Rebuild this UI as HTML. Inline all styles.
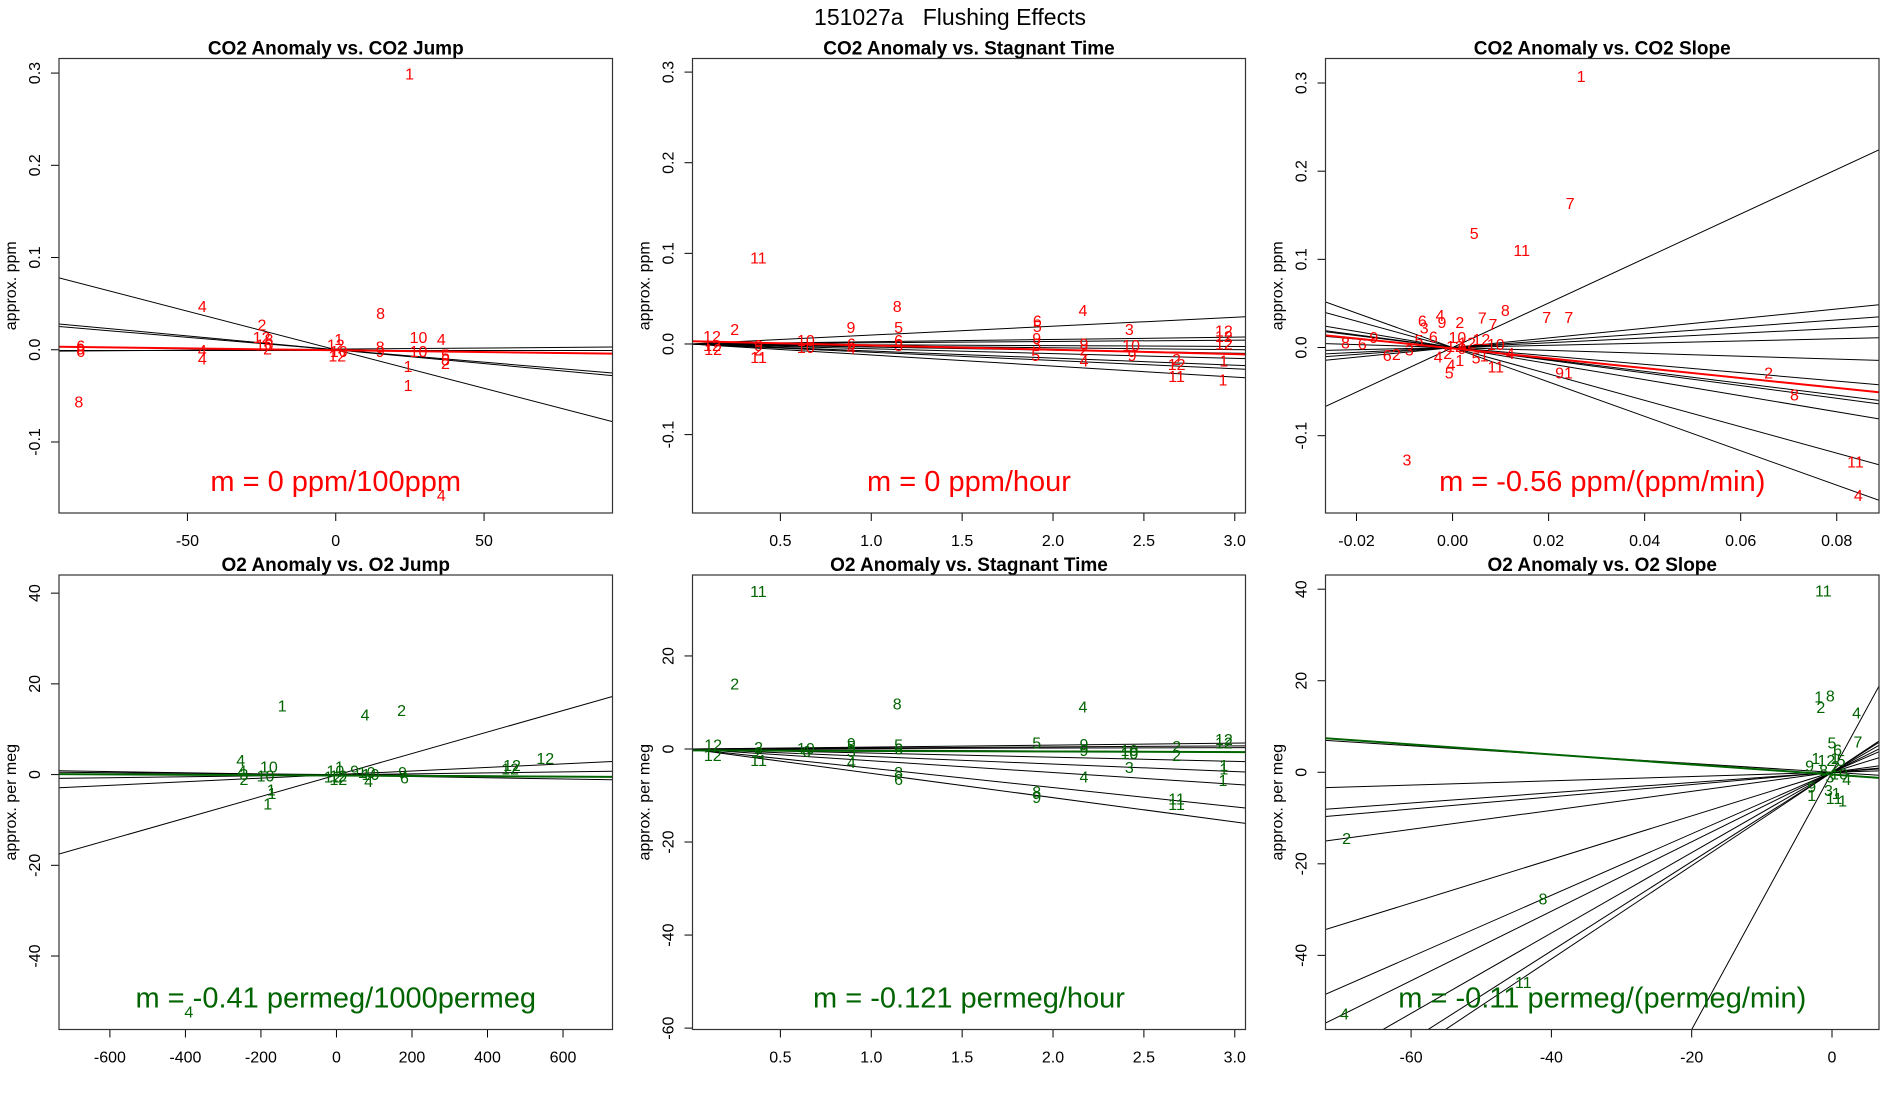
<!DOCTYPE html>
<html><head><meta charset="utf-8"><title>151027a Flushing Effects</title>
<style>
html,body{margin:0;padding:0;background:#fff;overflow:hidden;width:1900px;height:1100px;}
svg{display:block;font-family:"Liberation Sans",Arial,sans-serif;}
</style></head>
<body>
<svg id="chart" width="1900" height="1100" viewBox="0 0 1900 1100">
<text x="950" y="25" font-size="23" text-anchor="middle" style="white-space:pre" xml:space="preserve">151027a   Flushing Effects</text>
</svg>
<script>
// ---------- Panel 1: CO2 Anomaly vs CO2 Jump ----------
const p1X=[24.9,-45,-24.9,15.1,27.9,35.6,27.9,24.4,24.4,-86.6,35.6,-45,-45,-86,-86,-86,-25,-22.5,-24,-23,1,0,1,0.5,15,15,37,37,37];
const p1Y=[0.298,0.046,0.026,0.038,0.012,0.010,-0.003,-0.019,-0.040,-0.058,-0.159,-0.002,-0.011,0.003,0.0,-0.003,0.012,0.010,0.004,0.0,0.010,0.004,-0.003,-0.008,0.002,-0.003,-0.007,-0.012,-0.016];
const p1Lab=["1","4","2","8","10","4","10","1","1","8","4","4","4","6","9","6","12","8","10","2","1","12","10","12","8","9","5","8","2"];
const p1Slopes=[-0.000836,-0.0003,-0.00027,0.000024,0.0];
const p1Ints=[0,0,0,0.0007,-0.0008];
const p1Fit=[-0.00004,-0.0005];
// ---------- Panel 2: CO2 Anomaly vs Stagnant Time ----------
const p2X=[0.379,1.143,2.165,0.249,0.888,1.15,1.914,1.914,2.42,2.94,2.94,2.94,0.124,0.124,0.13,0.38,0.38,0.38,0.64,0.64,0.89,0.89,1.15,1.15,1.91,1.91,1.905,2.17,2.17,2.17,2.43,2.435,2.68,2.68,2.68,2.94,2.935];
const p2Y=[0.0935,0.040,0.036,0.015,0.017,0.017,0.024,0.018,0.015,0.013,0.007,-0.001,0.007,-0.003,-0.007,-0.003,-0.008,-0.016,0.003,-0.005,-0.001,-0.006,0.003,-0.003,0.005,-0.001,-0.014,-0.001,-0.008,-0.020,-0.003,-0.014,-0.018,-0.024,-0.037,-0.020,-0.041];
const p2Lab=["11","8","4","2","9","5","6","5","3","12","12","12","12","12","12","9","2","11","10","10","6","4","6","3","9","3","5","9","2","4","10","9","2","12","11","1","1"];
const p2Slopes=[0.0098,0.0025,0.0014,-0.0009,-0.0021,-0.0034,-0.0053,-0.0078,-0.0091,-0.0122];
const p2Ints=[0,0,0,0,0,0,0,0,0,0];
const p2Fit=[-0.00475,0.0031];
// ---------- Panel 3: CO2 Anomaly vs CO2 Slope ----------
const p3X=[0.0268,0.0245,0.0045,0.0144,0.011,0.0196,0.0242,0.0062,0.0084,-0.0026,-0.0063,-0.0022,0.0015,-0.0059,-0.0223,-0.0188,-0.0164,-0.0136,-0.0117,-0.0095,0.0658,0.0712,0.0839,0.0845,0.0232,0.009,-0.0007,-0.0003,0.0049,0.0066,0.001,0.003,-0.004,-0.007,0.0005,0.002,-0.001,0.006,0.009,0.012,-0.009,-0.003,0.0015];
const p3Y=[0.306,0.162,0.128,0.109,0.041,0.033,0.033,0.0326,0.025,0.035,0.029,0.027,0.027,0.021,0.004,0.003,0.010,-0.010,-0.009,-0.129,-0.030,-0.055,-0.131,-0.169,-0.030,-0.023,-0.030,-0.021,-0.013,-0.011,0.010,0.004,0.011,0.007,0.000,-0.002,-0.008,0.008,0.002,-0.008,-0.004,-0.012,-0.016];
const p3Lab=["1","7","5","11","8","7","7","7","7","4","6","9","2","3","8","6","9","6","2","3","2","8","11","4","91","11","5","4","5","1","10","12","6","5","12","9","2","12","10","4","3","4","1"];
const p3Slopes=[2.525,0.547,0.391,0.271,0.124,-0.165,-0.476,-0.676,-0.720,-0.911,-1.498,-1.952];
const p3Ints=[0,0,0,0,0,0,0,0,0,0,0,0];
const p3Fit=[-0.56,-0.001];
// ---------- Panel 4: O2 Anomaly vs O2 Jump ----------
const p4X=[-143.8,75.7,172.3,553,465,460,-253.6,-179,-245,-188,-173,-171,-182,-391,-3,5,8,48,80,90,85,175,180,-250,-245,5,-10];
const p4Y=[14.9,12.9,13.9,3.3,1.8,1.0,2.9,1.4,-1.3,-0.5,-3.6,-4.4,-6.7,-52.6,0.6,-0.5,1.4,0.6,0.2,-0.2,-1.7,0.2,-1.0,0.6,-0.2,-1.3,-0.8];
const p4Lab=["1","4","2","12","12","12","4","10","2","10","1","1","1","4","10","12","1","9","10","10","4","9","6","4","3","12","12"];
const p4Slopes=[0.0237,0.00394,-0.00137,0.00106,-0.0007];
const p4Ints=[-0.1,0,-0.15,-0.05,0];
const p4Fit=[-0.00041,-0.2];
// ---------- Panel 5: O2 Anomaly vs Stagnant Time ----------
const p5X=[0.379,0.249,1.143,2.165,2.94,2.94,1.91,2.17,2.17,2.68,2.68,2.42,2.42,2.42,2.94,2.94,2.935,2.17,2.68,2.68,1.91,1.91,1.15,1.15,0.89,0.89,0.38,0.128,0.13,0.64,0.645,1.15,1.15,0.89,0.89,0.38,0.38];
const p5Y=[33.6,13.8,9.5,8.8,1.8,1.05,1.05,0.8,-0.5,0.3,-1.6,-0.5,-1.2,-4.2,-3.8,-4.5,-7.0,-6.2,-11.0,-12.1,-9.5,-10.6,-5.3,-6.8,-3.1,-0.8,-2.7,-1.6,0.6,-0.1,-0.8,0.6,-0.2,1.0,0.3,0.1,-1.0];
const p5Lab=["11","2","8","4","12","12","5","9","9","2","2","10","10","3","1","1","1","4","11","11","8","9","8","6","4","3","11","12","12","10","6","5","6","9","5","2","2"];
const p5Slopes=[0.418,0.221,0.098,-0.221,-0.885,-1.62,-2.53,-4.15,-5.23];
const p5Ints=[0,0,0,0,0,0,0,0,0];
const p5Fit=[-0.121,-0.3];
// ---------- Panel 6: O2 Anomaly vs O2 Slope ----------
const p6X=[-1.24,-1.9,-0.24,-1.6,3.5,3.7,0,0.8,-69.2,-41.2,-44.0,-69.5,-3.2,-2.3,-0.8,0.4,1.3,2.1,-2.9,-2.9,-0.5,0.6,1.5,0.3,-1.2,1.0,-0.3,0.5];
const p6Y=[39.4,16.2,16.4,13.9,12.7,6.4,6.2,4.7,-14.7,-27.9,-46.1,-53.0,1.2,2.8,2.4,2.8,2.4,-1.8,-3.4,-5.3,-4.2,-4.9,-6.5,-6.0,0.2,-0.6,-1.2,1.0];
const p6Lab=["11","1","8","2","4","7","5","6","2","8","11","4","9","1","12","1","5","4","9","1","3","1","1","11","8","10","3","2"];
const p6Slopes=[-0.0964,0.0466,0.112,0.134,0.208,0.476,0.672,0.759,0.878,0.976,1.02,2.81];
const p6Ints=[0,0,0,0,0,0,0,0,0,0,0,0];
const p6Fit=[-0.11,-0.5];

const SVGNS="http://www.w3.org/2000/svg";
const svgRoot=document.getElementById('chart');
function mk(tag,attrs,parent){const e=document.createElementNS(SVGNS,tag);for(const k in attrs)e.setAttribute(k,attrs[k]);(parent||svgRoot).appendChild(e);return e;}

function panel(cfg){
  const g=mk('g',{});
  
  
  const b=cfg.box;
  const sx=v=>b.l+(v-cfg.xlim[0])/(cfg.xlim[1]-cfg.xlim[0])*(b.r-b.l);
  const sy=v=>b.b-(v-cfg.ylim[0])/(cfg.ylim[1]-cfg.ylim[0])*(b.b-b.t);
  const cid='clip-'+cfg.name;
  const cp=mk('clipPath',{id:cid},g);
  mk('rect',{x:b.l,y:b.t,width:b.r-b.l,height:b.b-b.t},cp);
  const t=mk('text',{x:(b.l+b.r)/2,y:b.t-4,'font-size':19,'font-weight':'bold','text-anchor':'middle'},g);
  t.textContent=cfg.title;
  
  
  const yl=mk('text',{x:b.l-43,y:(b.t+b.b)/2,'font-size':16,'text-anchor':'middle',transform:`rotate(-90 ${b.l-43} ${(b.t+b.b)/2})`},g);
  yl.textContent=cfg.ylabel;
  
  
  cfg.xticks.forEach((v,i)=>{
    const x=sx(v);
    const tk=mk('line',{x1:x,x2:x,y1:b.b,y2:b.b+8,stroke:'#000','stroke-width':1},g);
    
    
    const tl=mk('text',{x:x,y:b.b+33,'font-size':16,'text-anchor':'middle'},g);
    tl.textContent=cfg.xtickLabels[i];
    
    
  });
  cfg.yticks.forEach((v,i)=>{
    const y=sy(v);
    const tk=mk('line',{x1:b.l-8,x2:b.l,y1:y,y2:y,stroke:'#000','stroke-width':1},g);
    
    
    const xx=b.l-19;
    const tl=mk('text',{x:xx,y:y,'font-size':16,'text-anchor':'middle',transform:`rotate(-90 ${xx} ${y})`},g);
    tl.textContent=cfg.ytickLabels[i];
    
    
  });
  const cg=mk('g',{'clip-path':`url(#${cid})`},g);
  cfg.slopes.forEach((m,i)=>{
    const c=cfg.ints[i];
    const x0=cfg.xlim[0],x1=cfg.xlim[1];
    const ln=mk('line',{x1:sx(x0),y1:sy(c+m*x0),x2:sx(x1),y2:sy(c+m*x1),stroke:'#000','stroke-width':1},cg);
    
    
  });
  cfg.px.forEach((v,i)=>{
    const pt=mk('text',{x:sx(v),y:sy(cfg.py[i]),'font-size':16,fill:cfg.color,'text-anchor':'middle','dominant-baseline':'central'},cg);
    pt.textContent=cfg.lab[i];
    
    
  });
  {
    const m=cfg.fit[0],c=cfg.fit[1],x0=cfg.xlim[0],x1=cfg.xlim[1];
    const ln=mk('line',{x1:sx(x0),y1:sy(c+m*x0),x2:sx(x1),y2:sy(c+m*x1),stroke:cfg.color,'stroke-width':2},cg);
    
    
  }
  const an=mk('text',{x:(b.l+b.r)/2,y:b.b-22,'font-size':29,fill:cfg.color,'text-anchor':'middle'},g);
  an.textContent=cfg.annot;
  
  
  const bx=mk('rect',{x:b.l,y:b.t,width:b.r-b.l,height:b.b-b.t,fill:'none',stroke:'#333','stroke-width':1.2},g);
  
  
}

const RED='#ff0000',GREEN='#006400';
const rowTop={t:58.5,b:513},rowBot={t:575,b:1029.5};
const c1={l:59,r:612.5},c2={l:692.5,r:1245.5},c3={l:1325.5,r:1879};
const ppmTicks=[-0.1,0,0.1,0.2,0.3],ppmLabels=["-0.1","0.0","0.1","0.2","0.3"];
const hrTicks=[0.5,1,1.5,2,2.5,3],hrLabels=["0.5","1.0","1.5","2.0","2.5","3.0"];

panel({name:'panel-co2-jump',title:'CO2 Anomaly vs. CO2 Jump',ylabel:'approx. ppm',box:{...c1,...rowTop},
  xlim:[-93.3,93.3],ylim:[-0.177,0.3158],xticks:[-50,0,50],xtickLabels:["-50","0","50"],
  yticks:ppmTicks,ytickLabels:ppmLabels,px:p1X,py:p1Y,lab:p1Lab,slopes:p1Slopes,ints:p1Ints,fit:p1Fit,color:RED,annot:'m = 0 ppm/100ppm'});
panel({name:'panel-co2-stagnant',title:'CO2 Anomaly vs. Stagnant Time',ylabel:'approx. ppm',box:{...c2,...rowTop},
  xlim:[0.0165,3.059],ylim:[-0.1865,0.315],xticks:hrTicks,xtickLabels:hrLabels,
  yticks:ppmTicks,ytickLabels:ppmLabels,px:p2X,py:p2Y,lab:p2Lab,slopes:p2Slopes,ints:p2Ints,fit:p2Fit,color:RED,annot:'m = 0 ppm/hour'});
panel({name:'panel-co2-slope',title:'CO2 Anomaly vs. CO2 Slope',ylabel:'approx. ppm',box:{...c3,...rowTop},
  xlim:[-0.02646,0.0888],ylim:[-0.1877,0.3278],xticks:[-0.02,0,0.02,0.04,0.06,0.08],xtickLabels:["-0.02","0.00","0.02","0.04","0.06","0.08"],
  yticks:ppmTicks,ytickLabels:ppmLabels,px:p3X,py:p3Y,lab:p3Lab,slopes:p3Slopes,ints:p3Ints,fit:p3Fit,color:RED,annot:'m = -0.56 ppm/(ppm/min)'});
panel({name:'panel-o2-jump',title:'O2 Anomaly vs. O2 Jump',ylabel:'approx. per meg',box:{...c1,...rowBot},
  xlim:[-734.8,731],ylim:[-56.2,44],xticks:[-600,-400,-200,0,200,400,600],xtickLabels:["-600","-400","-200","0","200","400","600"],
  yticks:[-40,-20,0,20,40],ytickLabels:["-40","-20","0","20","40"],px:p4X,py:p4Y,lab:p4Lab,slopes:p4Slopes,ints:p4Ints,fit:p4Fit,color:GREEN,annot:'m = -0.41 permeg/1000permeg'});
panel({name:'panel-o2-stagnant',title:'O2 Anomaly vs. Stagnant Time',ylabel:'approx. per meg',box:{...c2,...rowBot},
  xlim:[0.0165,3.059],ylim:[-60.3,37.4],xticks:hrTicks,xtickLabels:hrLabels,
  yticks:[-60,-40,-20,0,20],ytickLabels:["-60","-40","-20","0","20"],px:p5X,py:p5Y,lab:p5Lab,slopes:p5Slopes,ints:p5Ints,fit:p5Fit,color:GREEN,annot:'m = -0.121 permeg/hour'});
panel({name:'panel-o2-slope',title:'O2 Anomaly vs. O2 Slope',ylabel:'approx. per meg',box:{...c3,...rowBot},
  xlim:[-72.2,6.7],ylim:[-56.2,43.1],xticks:[-60,-40,-20,0],xtickLabels:["-60","-40","-20","0"],
  yticks:[-40,-20,0,20,40],ytickLabels:["-40","-20","0","20","40"],px:p6X,py:p6Y,lab:p6Lab,slopes:p6Slopes,ints:p6Ints,fit:p6Fit,color:GREEN,annot:'m = -0.11 permeg/(permeg/min)'});
</script>
</body></html>
